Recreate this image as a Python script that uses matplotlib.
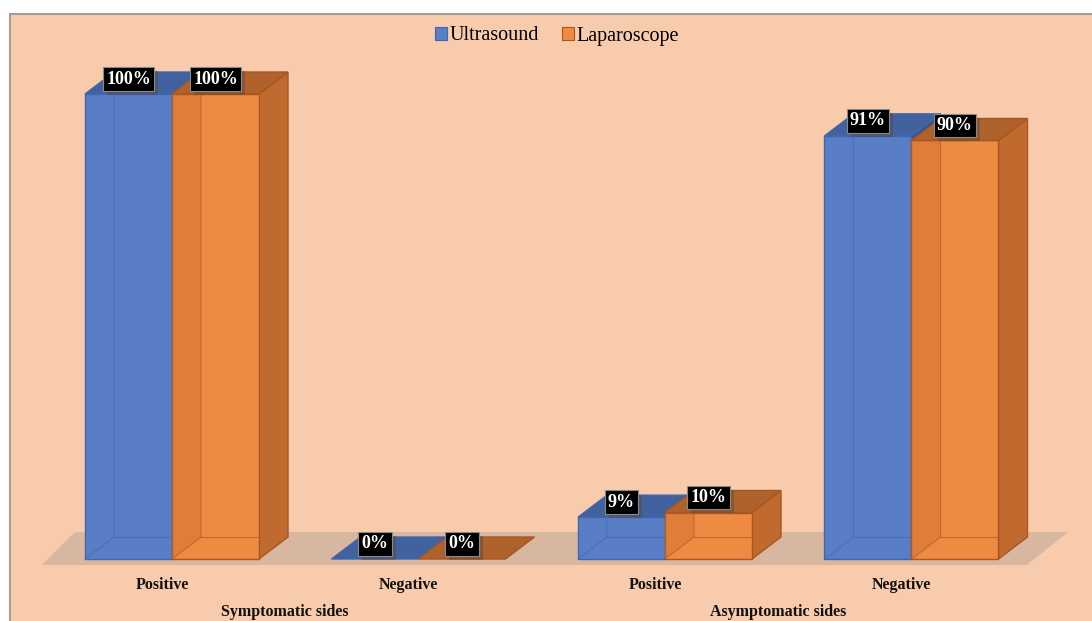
import matplotlib
matplotlib.use("Agg")
import matplotlib.pyplot as plt
from matplotlib.patches import Polygon, Rectangle, Patch
import matplotlib.patheffects as pe

# ---- data ----
categories = ["Positive", "Negative", "Positive", "Negative"]
groups = ["Symptomatic sides", "Asymptomatic sides"]
group_sizes = [2, 2]
series_names = ["Ultrasound", "Laparoscope"]
ultrasound = [100, 0, 9, 91]
laparoscope = [100, 0, 10, 90]
series_values = [ultrasound, laparoscope]

# ---- styles ----
BG = "#F8CBAD"
front_col = ["#5A7EC6", "#EE8A42"]
top_col = ["#41619F", "#B0622C"]
side_col = ["#37538C", "#C06A30"]
leftshade_col = [None, "#C8662A"]
edge_col = ["#4066AD", "#A9561F"]
font = "Liberation Serif"

W, H = 1092, 621
fig = plt.figure(figsize=(W / 100, H / 100), dpi=100)
fig.patch.set_facecolor("white")
fig.patches.append(Rectangle((10 / W, -0.01), 1.0, (H - 14) / H + 0.01,
                             transform=fig.transFigure, facecolor=BG,
                             edgecolor="#A89C94", lw=1.5, zorder=-5))

ax = fig.add_axes([0, 0, 1, 1])
ax.set_facecolor("none")
ax.set_zorder(1)
px_x = 246.5          # pixels per category
px_y = 4.65           # pixels per percent
x0px, y0px = 172, 559  # location of category 0 centre / zero line
ax.set_xlim(-x0px / px_x, (W - x0px) / px_x)
ax.set_ylim(-(H - y0px) / px_y, y0px / px_y)
ax.axis("off")

w = 87 / px_x          # bar width
dx = 29 / px_x         # depth offset x
dy = 22 / px_y         # depth offset y
n = len(categories)

# floor
fl_front_y = -6 / px_y
fl_back_y = 27 / px_y
floor = Polygon([(-130 / px_x, fl_front_y), (n - 1 + (1027 - 172 - 3 * px_x) / px_x, fl_front_y),
                 (n - 1 + (1068 - 172 - 3 * px_x) / px_x, fl_back_y), (-97 / px_x, fl_back_y)],
                closed=True, facecolor="#D8B7A1", edgecolor="none", zorder=1)
ax.add_patch(floor)

z = 2
for i in range(n):
    for j, vals in enumerate(series_values):
        v = vals[i]
        xl = i - w + j * w
        xr = xl + w
        ec = edge_col[j]
        if v > 0:
            ax.add_patch(Polygon([(xr, 0), (xr + dx, dy), (xr + dx, v + dy), (xr, v)],
                                 closed=True, facecolor=side_col[j], edgecolor=ec, lw=1, zorder=z))
            ax.add_patch(Rectangle((xl, 0), w, v, facecolor=front_col[j], edgecolor=ec,
                                   lw=1, zorder=z + 0.1))
            if leftshade_col[j]:
                ax.add_patch(Polygon([(xl, 0), (xl + dx, dy), (xl + dx, v), (xl, v)],
                                     closed=True, facecolor=leftshade_col[j], alpha=0.35,
                                     edgecolor="none", zorder=z + 0.2))
            ax.plot([xl, xl + dx, xl + dx], [0, dy, v], color=ec, lw=0.8, alpha=0.6, zorder=z + 0.3)
            ax.plot([xl + dx, xr], [dy, dy], color=ec, lw=0.8, alpha=0.6, zorder=z + 0.3)
            ax.add_patch(Polygon([(xl, v), (xr, v), (xr + dx, v + dy), (xl + dx, v + dy)],
                                 closed=True, facecolor=top_col[j], edgecolor=ec, lw=1, zorder=z + 0.4))
        else:
            ax.add_patch(Polygon([(xl, 0), (xr, 0), (xr + dx, dy), (xl + dx, dy)],
                                 closed=True, facecolor=top_col[j], edgecolor=ec, lw=1, zorder=z + 0.4))
        z += 1

# data labels
for i in range(n):
    for j, vals in enumerate(series_values):
        v = vals[i]
        xc = i - w + j * w + w / 2
        t = ax.annotate(f"{v}%", (xc, v), xytext=(0, 15), textcoords="offset pixels",
                        ha="center", va="center", fontsize=13, fontweight="bold",
                        family=font, color="white", zorder=41,
                        bbox=dict(boxstyle="square,pad=0.18", facecolor="black",
                                  edgecolor="#8A8A8A", lw=0.8))
        t.get_bbox_patch().set_path_effects([
            pe.SimplePatchShadow(offset=(3, -3), shadow_rgbFace="#5A463C", alpha=0.45),
            pe.Normal()])

# category labels
for i, c in enumerate(categories):
    ax.annotate(c, (i, 0), xytext=(-10, -26), textcoords="offset pixels",
                ha="center", va="center", fontsize=11.5, fontweight="bold", family=font,
                color="#111111")

# group labels
start = 0
for g, s in zip(groups, group_sizes):
    gc = start + (s - 1) / 2
    ax.annotate(g, (gc, 0), xytext=(-10, -53), textcoords="offset pixels",
                ha="center", va="center", fontsize=11.5, fontweight="bold", family=font,
                color="#111111")
    start += s

# legend
handles = [Patch(facecolor=front_col[k], edgecolor=edge_col[k], lw=0.8) for k in range(2)]
fig.legend(handles, series_names, loc="center", bbox_to_anchor=(557 / W, 1 - 36 / H),
           ncol=2, frameon=False, prop=dict(family=font, size=14.5),
           handlelength=0.6, handleheight=0.6, handletextpad=0.15, columnspacing=1.1,
           borderaxespad=0)

fig.savefig("out.png", dpi=100, facecolor=fig.get_facecolor())
